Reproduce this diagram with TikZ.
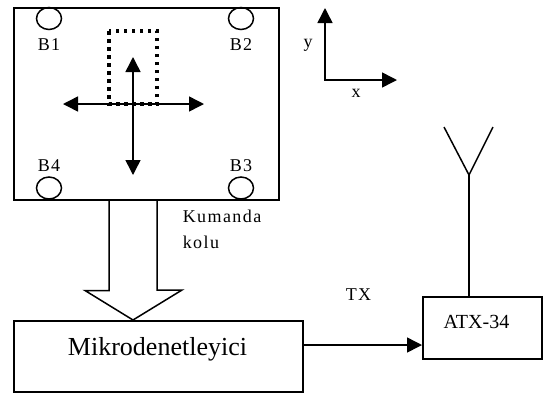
\documentclass[tikz,border=0pt]{standalone}
\usepackage{fontspec}
\setmainfont{Liberation Serif}
\newfontfamily\wideserif[LetterSpace=8]{Liberation Serif}
\usepackage{tikz}
\usetikzlibrary{arrows.meta,positioning,calc,shapes.geometric}
\definecolor{Ink}{HTML}{000000}
\tikzset{
  blok/.style={draw=Ink,inner sep=0pt,anchor=north west},
  dugme/.style={draw=Ink,ellipse,minimum width=25pt,minimum height=22pt,inner sep=0pt},
  etiket/.style={font=\fontsize{18}{26}\selectfont\wideserif,text=Ink,inner sep=0pt},
  ucgen/.tip={Triangle[length=15pt,width=15pt]},
  noktali/.style={draw=Ink,line width=3.5pt,dash pattern=on 3.5pt off 4.5pt}
}
\newcommand{\Dugme}[4]{%
  \node[dugme] (#1) at (#2,#3) {};%
  \node[etiket,anchor=base] (l#1) at (#2,#4) {#1};%
}

\begin{document}
\begin{tikzpicture}[x=1pt,y=-1pt,line width=1.5pt]
\useasboundingbox (0,0) rectangle (543,392);
\node[blok,minimum width=265pt,minimum height=192pt] (kol) at (13,7) {};
\node[blok,minimum width=289pt,minimum height=71pt] (mcu) at (13,320) {};
\node[blok,minimum width=119pt,minimum height=62pt] (atx) at (422,296) {};
\node[font=\fontsize{26}{30}\selectfont,anchor=base,inner sep=0pt] (mcuyazi) at (157.5,355) {Mikrodenetleyici};
\node[font=\fontsize{20}{24}\selectfont,anchor=base,inner sep=0pt] (atxyazi) at (476.5,328) {ATX-34};
\foreach \n/\x/\y/\ly in {B1/49/18.5/50,B2/241/18.5/50,B4/49/188/171,B3/241/188/171} {
  \Dugme{\n}{\x}{\y}{\ly}
}
\draw[noktali] (109,31) rectangle (157,104);
\coordinate (merkez) at (133,104);
\coordinate (sol) at (63,104);
\coordinate (sag) at (204,104);
\coordinate (ust) at (133,57);
\coordinate (alt) at (133,175);
\draw[ucgen-ucgen] (sol) -- (sag);
\draw[ucgen-ucgen] (ust) -- (alt);
\coordinate (sap) at (133,0);
\draw ($(kol.south -| sap)+(-24,0)$) -- ++(0,90) -- ++(-24,0) -- (mcu.north -| sap)
  -- ++(49,-30) -- ++(-25,0) -- ($(kol.south -| sap)+(24,0)$);
\node[etiket,align=left,anchor=north west] (kolyazi) at (182,209) {Kumanda\\kolu};
\coordinate (o) at (325,80);
\coordinate (yuc) at (325,8);
\coordinate (xuc) at (397,80);
\draw[ucgen-ucgen] (yuc) -- (o) -- (xuc);
\node[etiket] (ylbl) at (308,45) {y};
\node[etiket] (xlbl) at (356,93) {x};
\coordinate (anttepe) at (469,175);
\draw (atx.north -| anttepe) -- (anttepe);
\draw (444,127) -- (anttepe) -- (493,127);
\coordinate (tx) at (0,345);
\draw[-ucgen] (mcu.east |- tx) -- (atx.west |- tx);
\node[etiket,anchor=base west] (txyazi) at (345,300) {TX};
\end{tikzpicture}
\end{document}
